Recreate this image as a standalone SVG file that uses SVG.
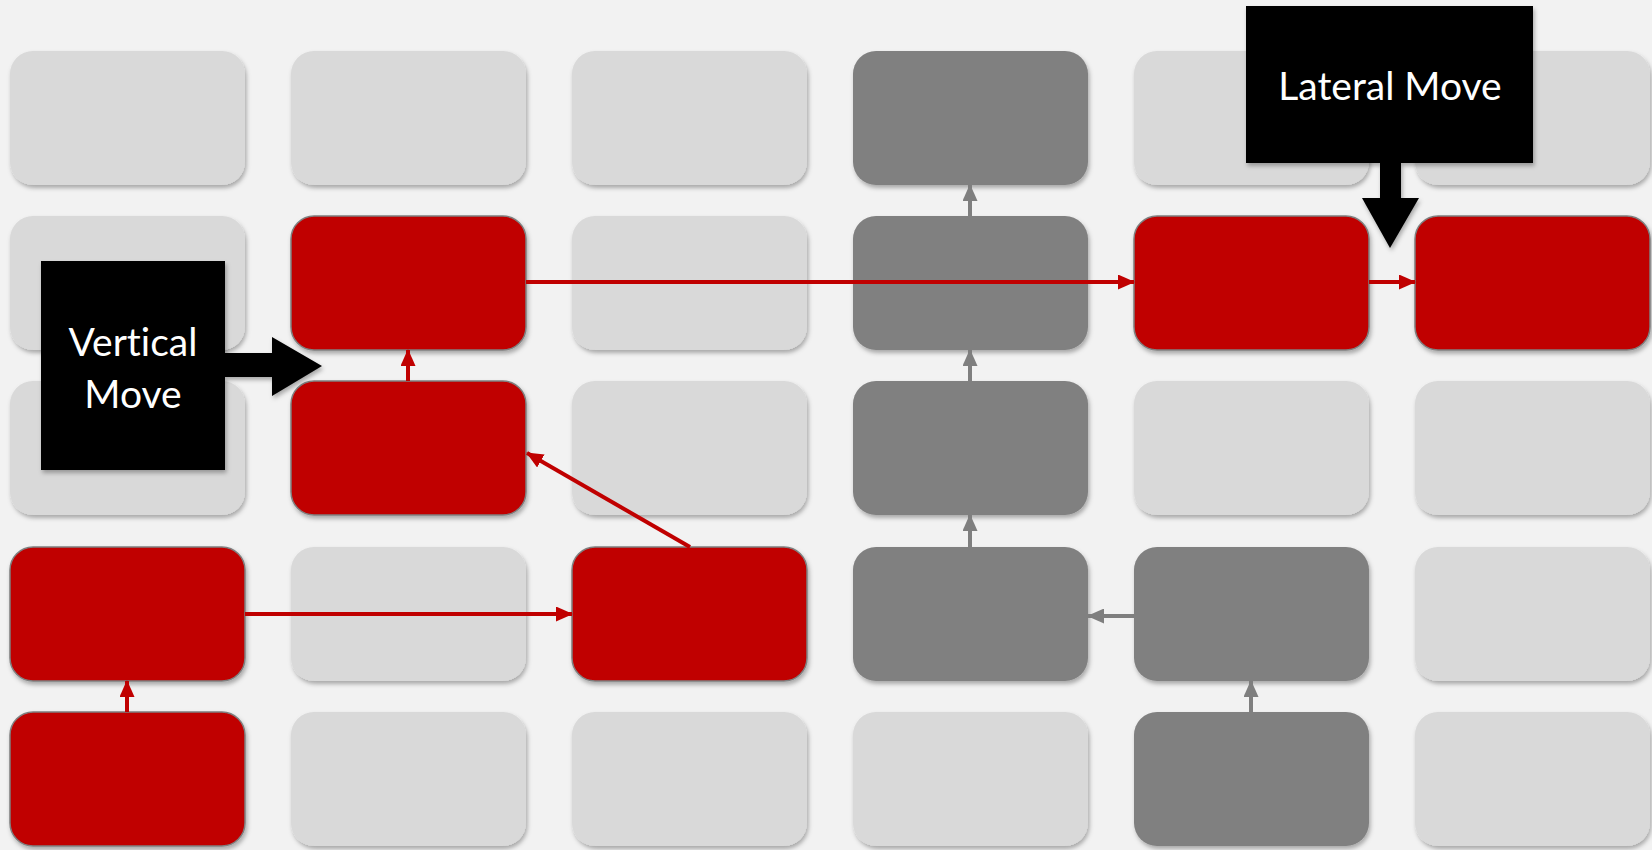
<svg xmlns="http://www.w3.org/2000/svg" width="1652" height="850" viewBox="0 0 1652 850">
<style>
.light{fill:#d9d9d9;}
.dark{fill:#808080;}
.red{fill:#c00000;stroke:#7f7f7f;stroke-width:1.5;}
.box{filter:url(#sh);}
.rc{stroke:#c00000;stroke-width:4;fill:none;marker-end:url(#ar);}
.gc{stroke:#7f7f7f;stroke-width:4;fill:none;marker-end:url(#ag);}
.call{fill:#000;filter:url(#sh);}
.lbl{font-family:Lato,"Open Sans","Liberation Sans",sans-serif;font-size:39px;fill:#fff;text-anchor:middle;font-variant-ligatures:none;}
</style>
<defs>
<filter id="sh" x="-10%" y="-10%" width="125%" height="130%">
<feDropShadow dx="1.5" dy="3" stdDeviation="2" flood-color="#000" flood-opacity="0.3"/>
</filter>
<marker id="ar" markerUnits="userSpaceOnUse" markerWidth="17" markerHeight="15" refX="16" refY="7.5" orient="auto">
<path d="M0,0 L17,7.5 L0,15 Z" fill="#c00000"/>
</marker>
<marker id="ag" markerUnits="userSpaceOnUse" markerWidth="17" markerHeight="15" refX="16" refY="7.5" orient="auto">
<path d="M0,0 L17,7.5 L0,15 Z" fill="#7f7f7f"/>
</marker>
</defs>
<rect width="1652" height="850" fill="#f2f2f2"/>
<g id="nodes">
<g id="r1c1"><rect class="box light" x="10" y="51" width="235" height="134" rx="23"/></g>
<g id="r1c2"><rect class="box light" x="291" y="51" width="235" height="134" rx="23"/></g>
<g id="r1c3"><rect class="box light" x="572" y="51" width="235" height="134" rx="23"/></g>
<g id="r1c4"><rect class="box dark" x="853" y="51" width="235" height="134" rx="23"/></g>
<g id="r1c5"><rect class="box light" x="1134" y="51" width="235" height="134" rx="23"/></g>
<g id="r1c6"><rect class="box light" x="1415" y="51" width="235" height="134" rx="23"/></g>

<g id="r2c1"><rect class="box light" x="10" y="216" width="235" height="134" rx="23"/></g>
<g id="r2c2"><rect class="box red" x="291" y="216" width="235" height="134" rx="23"/></g>
<g id="r2c3"><rect class="box light" x="572" y="216" width="235" height="134" rx="23"/></g>
<g id="r2c4"><rect class="box dark" x="853" y="216" width="235" height="134" rx="23"/></g>
<g id="r2c5"><rect class="box red" x="1134" y="216" width="235" height="134" rx="23"/></g>
<g id="r2c6"><rect class="box red" x="1415" y="216" width="235" height="134" rx="23"/></g>

<g id="r3c1"><rect class="box light" x="10" y="381" width="235" height="134" rx="23"/></g>
<g id="r3c2"><rect class="box red" x="291" y="381" width="235" height="134" rx="23"/></g>
<g id="r3c3"><rect class="box light" x="572" y="381" width="235" height="134" rx="23"/></g>
<g id="r3c4"><rect class="box dark" x="853" y="381" width="235" height="134" rx="23"/></g>
<g id="r3c5"><rect class="box light" x="1134" y="381" width="235" height="134" rx="23"/></g>
<g id="r3c6"><rect class="box light" x="1415" y="381" width="235" height="134" rx="23"/></g>

<g id="r4c1"><rect class="box red" x="10" y="547" width="235" height="134" rx="23"/></g>
<g id="r4c2"><rect class="box light" x="291" y="547" width="235" height="134" rx="23"/></g>
<g id="r4c3"><rect class="box red" x="572" y="547" width="235" height="134" rx="23"/></g>
<g id="r4c4"><rect class="box dark" x="853" y="547" width="235" height="134" rx="23"/></g>
<g id="r4c5"><rect class="box dark" x="1134" y="547" width="235" height="134" rx="23"/></g>
<g id="r4c6"><rect class="box light" x="1415" y="547" width="235" height="134" rx="23"/></g>

<g id="r5c1"><rect class="box red" x="10" y="712" width="235" height="134" rx="23"/></g>
<g id="r5c2"><rect class="box light" x="291" y="712" width="235" height="134" rx="23"/></g>
<g id="r5c3"><rect class="box light" x="572" y="712" width="235" height="134" rx="23"/></g>
<g id="r5c4"><rect class="box light" x="853" y="712" width="235" height="134" rx="23"/></g>
<g id="r5c5"><rect class="box dark" x="1134" y="712" width="235" height="134" rx="23"/></g>
<g id="r5c6"><rect class="box light" x="1415" y="712" width="235" height="134" rx="23"/></g>
</g>
<g id="connectors">
<line class="rc" x1="127" y1="712" x2="127" y2="681"/>
<line class="rc" x1="245" y1="614" x2="572" y2="614"/>
<line class="rc" x1="690" y1="547" x2="527" y2="453"/>
<line class="rc" x1="408" y1="381" x2="408" y2="350"/>
<line class="rc" x1="526" y1="282" x2="1134" y2="282"/>
<line class="rc" x1="1369" y1="282" x2="1415" y2="282"/>
<line class="gc" x1="1251" y1="712" x2="1251" y2="681"/>
<line class="gc" x1="1134" y1="616" x2="1088" y2="616"/>
<line class="gc" x1="970" y1="547" x2="970" y2="515"/>
<line class="gc" x1="970" y1="381" x2="970" y2="350"/>
<line class="gc" x1="970" y1="216" x2="970" y2="185"/>
</g>
<g id="vertical-move">
<path class="call" d="M41,261 H225 V353 H272 V337 L322,366 L272,396 V377 H225 V470 H41 Z"/>
<text class="lbl" x="133" y="356">Vertical</text>
<text class="lbl" x="133" y="408">Move</text>
</g>
<g id="lateral-move">
<path class="call" d="M1246,6 H1533 V163 H1401 V198 H1419 L1390,248 L1362,198 H1380 V163 H1246 Z"/>
<text class="lbl" x="1390" y="100">Lateral Move</text>
</g>
</svg>
